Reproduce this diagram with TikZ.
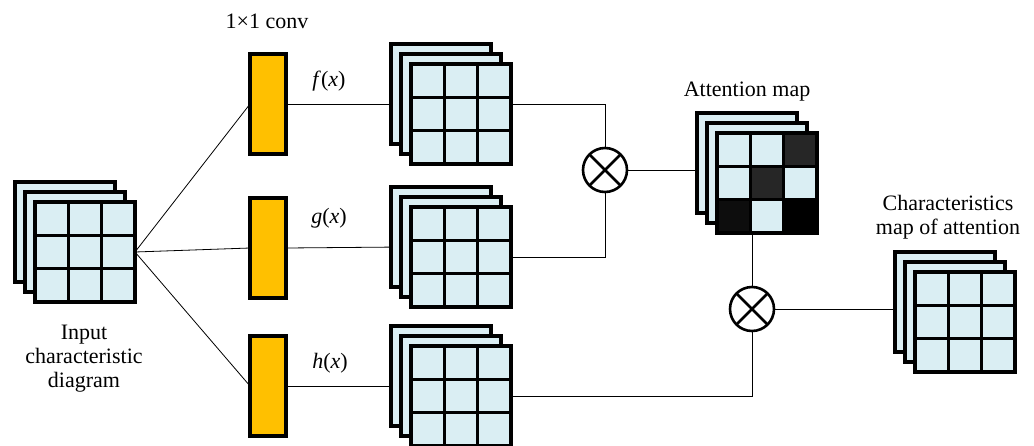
\documentclass[tikz,border=0pt]{standalone}
\usepackage{fontspec}
\setmainfont{Liberation Serif}
\usetikzlibrary{calc,backgrounds}
\definecolor{mapblue}{HTML}{DAEEF3}
\definecolor{convyellow}{HTML}{FFC000}
\definecolor{cellgray}{HTML}{262626}
\definecolor{cellblack}{HTML}{0D0D0D}

% stack of three feature sheets, #2 = name, #3 = centre of the middle sheet
\newcommand{\fmap}[3][]{%
  \node[sheet] (#2-back) at ($(#3)+(-10,-10)$) {};
  \node[sheet] (#2) at (#3) {};
  \node[sheet] (#2-front) at ($(#3)+(10,10)$) {};
  \if\relax\detokenize{#1}\relax\else
    \foreach \col/\row/\shade in {#1}
      \fill[\shade] ($(#2-front.north west)+(\col*100/3,\row*100/3)$) rectangle +(100/3,100/3);
  \fi
  \foreach \k in {1,2} {
    \draw[gridline] ($(#2-front.north west)!\k/3!(#2-front.north east)$)
      -- ($(#2-front.south west)!\k/3!(#2-front.south east)$);
    \draw[gridline] ($(#2-front.north west)!\k/3!(#2-front.south west)$)
      -- ($(#2-front.north east)!\k/3!(#2-front.south east)$);
  }
  \draw[gridline] (#2-front.north west) rectangle (#2-front.south east);
}

\begin{document}
\begin{tikzpicture}[x=0.5pt,y=-0.5pt,
  sheet/.style={rectangle,draw,line width=1.7pt,fill=mapblue,minimum size=50pt,inner sep=0pt,outer sep=0pt},
  gridline/.style={line width=1.7pt},
  conv/.style={rectangle,draw,line width=1.7pt,fill=convyellow,minimum width=18pt,minimum height=50pt,inner sep=0pt,outer sep=0pt},
  mult/.style={circle,draw,line width=1.3pt,fill=white,minimum size=22pt,inner sep=0pt,outer sep=0pt,
    path picture={\draw[line width=1.3pt] (path picture bounding box.north west) -- (path picture bounding box.south east)
      (path picture bounding box.north east) -- (path picture bounding box.south west);}},
  link/.style={line width=1.2pt},
  txt/.style={font=\fontsize{11}{12}\selectfont,inner sep=0pt}]
  \useasboundingbox (0,0) rectangle (1034,445);
  % Input
  \fmap{in}{75,242}
  \node[txt,align=center,anchor=north] (in-text) at (84,325) {Input\\characteristic\\diagram};
  % 1x1 conv
  \node[conv] (fconv) at (268,104) {};
  \node[conv] (gconv) at (268,248) {};
  \node[conv] (hconv) at (268,386) {};
  \node[txt] (conv-text) at (267,21) {1×1 conv};
  % Feature maps
  \fmap{f}{451,104}
  \fmap{g}{451,247}
  \fmap{h}{451,386}
  \node[txt] (f-text) at (329,81) {\textit{f}(\textit{x})};
  \node[txt] (g-text) at (329,218) {\textit{g}(\textit{x})};
  \node[txt] (h-text) at (330,363) {\textit{h}(\textit{x})};
  % Products
  \node[mult] (m1) at (605,170) {};
  \node[mult] (m2) at (752,309) {};
  % Attention map
  \fmap[2/0/cellgray,1/1/cellgray,0/2/cellblack,2/2/black]{att}{757,173}
  \node[txt] (att-text) at (747,92) {Attention map};
  % Output
  \fmap{out}{955,312}
  \node[txt,align=center] (out-text) at (948,217) {Characteristics\\map of attention};
  % Connectors
  \begin{scope}[on background layer,link]
    \draw (in-front.east) -- (fconv.west);
    \draw (in-front.east) -- (gconv.west);
    \draw (in-front.east) -- (hconv.west);
    \draw (fconv.east) -- (f.west);
    \draw (gconv.east) -- (g.west);
    \draw (hconv.east) -- (h.west);
    \draw (f.east) -| (m1.north);
    \draw (g-front.east) -| (m1.south);
    \draw (m1.east) -- (att-back.west |- m1.east);
    \draw (att-front.south -| m2.north) -- (m2.north);
    \draw (h-front.east) -| (m2.south);
    \draw (m2.east) -- (out-back.west |- m2.east);
  \end{scope}
\end{tikzpicture}
\end{document}
